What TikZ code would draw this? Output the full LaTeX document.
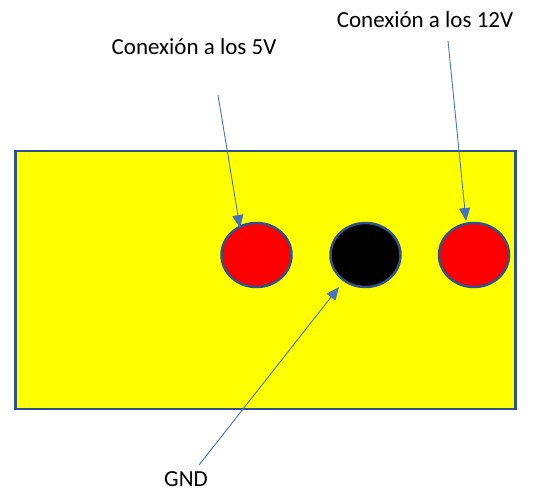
\documentclass[tikz,border=0pt]{standalone}
\usepackage{fontspec}
\setmainfont{Carlito}
\usetikzlibrary{arrows.meta,shapes.geometric}
\definecolor{edgeblue}{HTML}{2F528F}
\definecolor{arrowblue}{HTML}{4472C4}
\definecolor{boardyellow}{HTML}{FFFF00}
\definecolor{jackred}{HTML}{FF0000}
\begin{document}
\begin{tikzpicture}[x=1pt,y=-1pt,
  jack/.style={ellipse,draw=edgeblue,line width=2.5pt,minimum width=70pt,minimum height=64pt,inner sep=0pt},
  lbl/.style={font=\fontsize{23}{27}\selectfont,text=black,inner sep=0pt},
  pointer/.style={draw=arrowblue,line width=0.9pt,-{Triangle[length=13pt,width=11pt]}}]
\useasboundingbox (0,0) rectangle (533,491);
\node[draw=edgeblue,fill=boardyellow,line width=2.5pt,minimum width=500pt,minimum height=258pt,inner sep=0pt] (board) at (265.5,280) {};
\node[jack,fill=jackred] (j5) at (256.5,255) {};
\node[jack,fill=black] (gnd) at (365.5,255) {};
\node[jack,fill=jackred] (j12) at (474,255) {};
\node[lbl] (t5) at (194,47) {Conexión a los 5V};
\node[lbl] (t12) at (425,20) {Conexión a los 12V};
\node[lbl] (tg) at (186,479) {GND};
\coordinate (s5) at (218,95);
\coordinate (s12) at (448,41);
\coordinate (sg) at (199,465);
\draw[pointer] (s5) -- (240,228);
\draw[pointer] (s12) -- (466,221);
\draw[pointer] (sg) -- (339,287);
\end{tikzpicture}
\end{document}
